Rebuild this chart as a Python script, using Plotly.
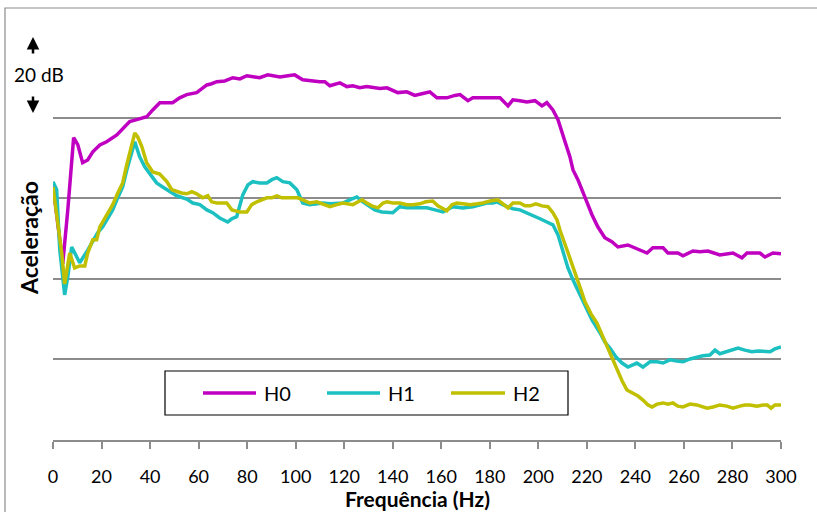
import plotly.graph_objects as go

# ---- data (frequency in Hz, relative acceleration level in dB) ----
h0_freq = [0, 0.7, 1.9, 4.0, 6.1, 8.5, 10.2, 12.2, 14.3, 16.4, 19.3, 22.1, 26.3, 28.7, 31.6, 34.5, 38.6, 41.1,
           44.0, 46.9, 49.3, 52.2, 55.1, 59.2, 63.4, 65.4, 67.5, 70.8, 74.1, 77.0, 79.9, 83.1, 85.2, 88.5, 91.4,
           93.5, 96.8, 99.6, 102.9, 106.6, 109.9, 112.0, 114.1, 118.2, 121.1, 123.6, 126.4, 129.3, 131.8, 134.7,
           137.6, 140.0, 142.1, 145.8, 149.1, 152.0, 155.3, 158.2, 162.3, 165.6, 167.7, 171.0, 173.0, 177.1,
           181.3, 184.2, 187.5, 189.5, 192.4, 195.3, 198.6, 201.5, 203.5, 206.0, 208.1, 209.7, 211.0, 213.0,
           214.3, 216.3, 218.4, 220.0, 222.1, 224.5, 227.4, 230.3, 232.8, 236.9, 240.6, 244.8, 247.2, 251.4,
           253.4, 257.5, 259.6, 263.7, 266.6, 269.9, 274.8, 280.2, 283.9, 286.0, 291.3, 293.4, 296.7, 300.0]
h0_db = [63.3, 59.6, 53.4, 43.7, 57.1, 75.0, 73.3, 68.8, 69.5, 71.5, 73.2, 74.0, 75.7, 77.2, 79.0, 79.5, 80.2, 81.9,
         83.7, 83.7, 83.7, 84.9, 85.7, 86.2, 88.1, 88.4, 88.9, 89.1, 89.9, 89.6, 90.4, 90.1, 89.9, 90.6, 90.4,
         90.1, 90.4, 90.6, 89.4, 89.1, 88.9, 88.9, 87.9, 88.6, 87.7, 87.9, 87.4, 87.7, 87.4, 87.2,
         87.4, 86.7, 86.2, 86.4, 85.5, 85.9, 86.4, 84.9, 84.9, 85.5, 85.7, 84.2, 84.9, 84.9,
         84.9, 84.9, 82.9, 84.4, 84.2, 83.9, 84.2, 82.9, 83.7, 81.9, 79.5, 76.2, 74.0, 70.3,
         67.0, 64.6, 61.3, 58.8, 55.9, 52.9, 50.2, 49.2, 47.9, 48.4, 47.4, 46.4, 47.7, 47.7,
         46.4, 46.4, 45.7, 46.9, 46.7, 46.9, 45.9, 46.4, 45.2, 46.4, 46.4, 45.4, 46.4, 46.2]

h1_freq = [0, 1.5, 2.8, 4.8, 6.1, 7.7, 9.4, 11.0, 13.9, 16.0, 18.4, 20.5, 22.1, 24.6, 26.3, 28.7, 30.4, 32.0,
           33.7, 35.7, 37.8, 41.1, 42.7, 45.2, 48.1, 51.0, 55.1, 57.6, 60.5, 63.4, 65.8, 68.7, 72.0, 73.7,
           75.7, 78.2, 80.3, 82.3, 85.2, 88.1, 90.2, 92.2, 94.7, 97.6, 100.5, 102.9, 105.8, 108.7, 111.2,
           114.1, 117.0, 119.4, 122.3, 125.2, 127.7, 130.6, 132.6, 135.5, 138.0, 140.0, 142.9, 145.8, 149.9,
           154.1, 157.4, 160.7, 164.8, 168.9, 173.0, 175.9, 178.8, 181.3, 182.9, 187.1, 189.5, 192.4, 195.3,
           197.8, 200.7, 203.5, 206.0, 208.1, 210.2, 212.2, 214.3, 216.3, 218.4, 220.5, 222.1, 225.4, 227.4,
           229.5, 232.0, 234.5, 236.9, 240.6, 243.1, 246.0, 248.9, 251.4, 254.2, 257.1, 259.6, 262.5, 265.3,
           267.8, 270.7, 272.8, 274.8, 277.7, 280.2, 282.3, 285.1, 288.0, 290.5, 293.4, 295.5, 297.5, 300.0]
h1_db = [64.1, 62.1, 47.2, 36.0, 40.5, 47.9, 45.9, 44.0, 46.7, 48.9, 51.4, 52.9, 54.6, 57.1, 59.6, 62.8, 67.0, 70.3,
         74.0, 70.3, 67.8, 65.1, 63.8, 62.8, 61.6, 60.6, 59.8, 58.8, 58.4, 57.1, 56.4, 55.1, 54.1, 54.9,
         55.4, 60.8, 63.3, 64.1, 63.8, 63.8, 64.6, 65.1, 64.1, 63.8, 62.1, 58.8, 58.4, 58.6, 58.8,
         58.6, 58.8, 58.8, 59.6, 60.3, 59.1, 57.9, 57.1, 56.6, 56.4, 56.4, 57.9, 57.6, 57.6,
         57.6, 57.1, 56.6, 57.9, 57.6, 57.9, 58.4, 58.8, 58.8, 59.1, 57.9, 57.4, 57.1, 56.4,
         55.6, 54.9, 54.1, 53.4, 50.9, 46.4, 42.7, 39.7, 37.2, 34.8, 31.8, 29.8, 26.6, 24.3,
         22.8, 20.6, 19.1, 18.1, 19.1, 18.1, 19.4, 19.4, 19.1, 19.9, 19.6, 19.4, 20.1, 20.6,
         20.9, 21.1, 22.3, 21.4, 21.9, 22.3, 22.8, 22.3, 21.9, 22.1, 22.1, 21.9, 22.6, 23.1]

h2_freq = [0, 1.5, 3.6, 4.8, 6.9, 8.9, 11.0, 13.1, 14.3, 16.4, 18.0, 19.3, 21.3, 23.4, 24.6, 26.7, 28.7, 30.4,
           32.0, 33.7, 34.9, 36.6, 38.6, 41.1, 44.0, 45.2, 46.9, 49.0, 51.0, 53.0, 55.1, 57.2, 59.2, 61.7,
           63.8, 65.4, 67.5, 69.6, 71.6, 73.7, 77.0, 79.9, 81.9, 84.0, 86.1, 88.1, 90.2, 92.2, 94.3, 96.4,
           98.8, 100.9, 102.9, 105.8, 108.7, 111.2, 114.1, 117.0, 119.4, 123.6, 127.3, 129.3, 131.4, 133.9,
           136.0, 137.6, 140.0, 142.9, 145.8, 148.3, 151.2, 153.6, 156.5, 158.6, 160.2, 162.3, 164.4, 166.4,
           168.9, 171.9, 174.8, 177.1, 180.1, 183.3, 185.4, 187.5, 189.5, 192.4, 194.5, 196.6, 199.0, 201.5,
           204.0, 206.0, 207.7, 208.9, 211.8, 213.9, 216.0, 217.6, 219.2, 221.7, 224.1, 226.2, 228.3, 230.3,
           232.4, 234.5, 236.5, 239.0, 241.1, 243.1, 245.2, 246.9, 248.9, 251.4, 253.4, 255.5, 257.5, 259.6,
           262.5, 265.3, 267.8, 269.5, 272.0, 274.8, 277.7, 280.2, 283.0, 285.1, 287.2, 290.1, 292.6, 294.3,
           295.9, 297.5, 300.0]
h2_db = [62.8, 56.4, 46.4, 38.7, 46.4, 42.7, 43.2, 43.2, 46.4, 49.7, 49.7, 52.9, 55.1, 57.1, 58.4, 61.3, 63.8, 68.3,
         72.5, 76.2, 75.2, 72.8, 68.8, 66.5, 66.0, 65.1, 64.1, 62.1, 61.6, 61.3, 61.1, 61.6, 61.1, 60.1,
         60.6, 59.1, 58.8, 58.8, 58.8, 57.1, 56.6, 56.6, 58.4, 59.1, 59.6, 60.1, 60.1, 60.6, 60.1, 60.1,
         60.3, 60.1, 59.6, 58.8, 59.1, 58.6, 57.9, 58.4, 58.8, 58.4, 59.6, 58.8, 58.1, 57.6,
         58.8, 59.1, 58.8, 58.8, 58.4, 58.4, 58.6, 59.1, 59.3, 58.1, 57.6, 56.9, 58.4, 58.8,
         58.6, 58.4, 58.6, 58.8, 59.3, 59.6, 58.6, 57.6, 58.8, 58.8, 58.1, 58.1, 58.6, 58.1,
         57.9, 56.4, 54.6, 52.1, 47.2, 43.7, 40.5, 37.2, 34.3, 31.3, 29.1, 26.1, 23.1, 20.4,
         17.4, 14.7, 12.4, 11.7, 10.9, 9.9, 8.7, 8.2, 8.9, 9.2, 8.9, 9.2, 8.4, 8.2,
         8.9, 8.7, 8.2, 7.9, 8.2, 8.7, 8.4, 7.9, 8.4, 8.7, 8.7, 8.4, 8.7, 8.7,
         7.9, 8.7, 8.7]

series_names = ["H0", "H1", "H2"]
series_colors = ["#C000C0", "#1CC0C0", "#C0C000"]
x_ticks = [0, 20, 40, 60, 80, 100, 120, 140, 160, 180, 200, 220, 240, 260, 280, 300]
x_title = "Frequência (Hz)"
y_title = "Aceleração"
scale_label = "20 dB"

FONT = "Lato"
W, H = 817, 512
ML, MR, MT, MB = 53, 36, 37, 72
PW, PH = W - ML - MR, H - MT - MB


def px(x):  # pixel x -> paper
    return (x - ML) / PW


def py(y):  # pixel y -> paper
    return (H - MB - y) / PH


fig = go.Figure()
for f, d, name, col in zip([h0_freq, h1_freq, h2_freq], [h0_db, h1_db, h2_db], series_names, series_colors):
    fig.add_trace(go.Scatter(x=f, y=d, mode="lines", name=name,
                             line=dict(color=col, width=3.5), showlegend=False))

grid_col = "#8C8C8C"
fig.update_layout(
    width=W, height=H,
    margin=dict(l=ML, r=MR, t=MT, b=MB),
    paper_bgcolor="white", plot_bgcolor="white",
    font=dict(family=FONT, size=18, color="black"),
    xaxis=dict(range=[0, 300], tickvals=x_ticks, ticktext=[str(v) for v in x_ticks],
               showgrid=False, showline=True, linecolor=grid_col, linewidth=1.5,
               ticks="outside", ticklen=7, tickcolor=grid_col, tickwidth=1.5,
               ticklabelstandoff=13, tickfont=dict(family=FONT, size=18, color="black"),
               zeroline=False),
    yaxis=dict(range=[0, 100], tick0=0, dtick=20, showticklabels=False,
               showgrid=True, gridcolor=grid_col, gridwidth=1.5, zeroline=False, showline=False),
)

shapes = []
# outer chart border (left and top visible)
shapes.append(dict(type="rect", xref="paper", yref="paper", x0=px(5), x1=px(900), y0=py(600), y1=py(8),
                   line=dict(color="#8C8C8C", width=1.2), fillcolor="rgba(0,0,0,0)", layer="below"))
# legend box
shapes.append(dict(type="rect", xref="paper", yref="paper", x0=px(165), x1=px(568), y0=py(415), y1=py(371),
                   line=dict(color="black", width=1.2), fillcolor="white", layer="above"))
leg_x = [(203, 256, 262), (327, 380, 386), (451, 505, 511)]
annotations = []
for (a, b, t), name, col in zip(leg_x, series_names, series_colors):
    shapes.append(dict(type="line", xref="paper", yref="paper", x0=px(a), x1=px(b), y0=py(393), y1=py(393),
                       line=dict(color=col, width=3.5), layer="above"))
    annotations.append(dict(text=name, xref="paper", yref="paper", x=px(t), y=py(393),
                            xanchor="left", yanchor="middle", showarrow=False,
                            font=dict(family=FONT, size=20, color="black")))

# axis titles
annotations.append(dict(text="<b>%s</b>" % x_title, xref="paper", yref="paper", x=0.5, y=py(498),
                        xanchor="center", yanchor="middle", showarrow=False,
                        font=dict(family=FONT, size=21, color="black")))
annotations.append(dict(text="<b>%s</b>" % y_title, xref="paper", yref="paper", x=px(29), y=py(238),
                        xanchor="center", yanchor="middle", showarrow=False, textangle=-90,
                        font=dict(family=FONT, size=23, color="black")))
# 20 dB scale marker
annotations.append(dict(text=scale_label, xref="paper", yref="paper", x=px(39), y=py(74),
                        xanchor="center", yanchor="middle", showarrow=False,
                        font=dict(family=FONT, size=19, color="black")))
annotations.append(dict(text="", xref="paper", yref="paper", x=px(33), y=py(37),
                        ax=0, ay=18, showarrow=True, arrowhead=2, arrowsize=1.0, arrowwidth=2.5,
                        arrowcolor="black"))
annotations.append(dict(text="", xref="paper", yref="paper", x=px(33), y=py(113),
                        ax=0, ay=-18, showarrow=True, arrowhead=2, arrowsize=1.0, arrowwidth=2.5,
                        arrowcolor="black"))

fig.update_layout(shapes=shapes, annotations=annotations)
fig.write_html("out.html")
